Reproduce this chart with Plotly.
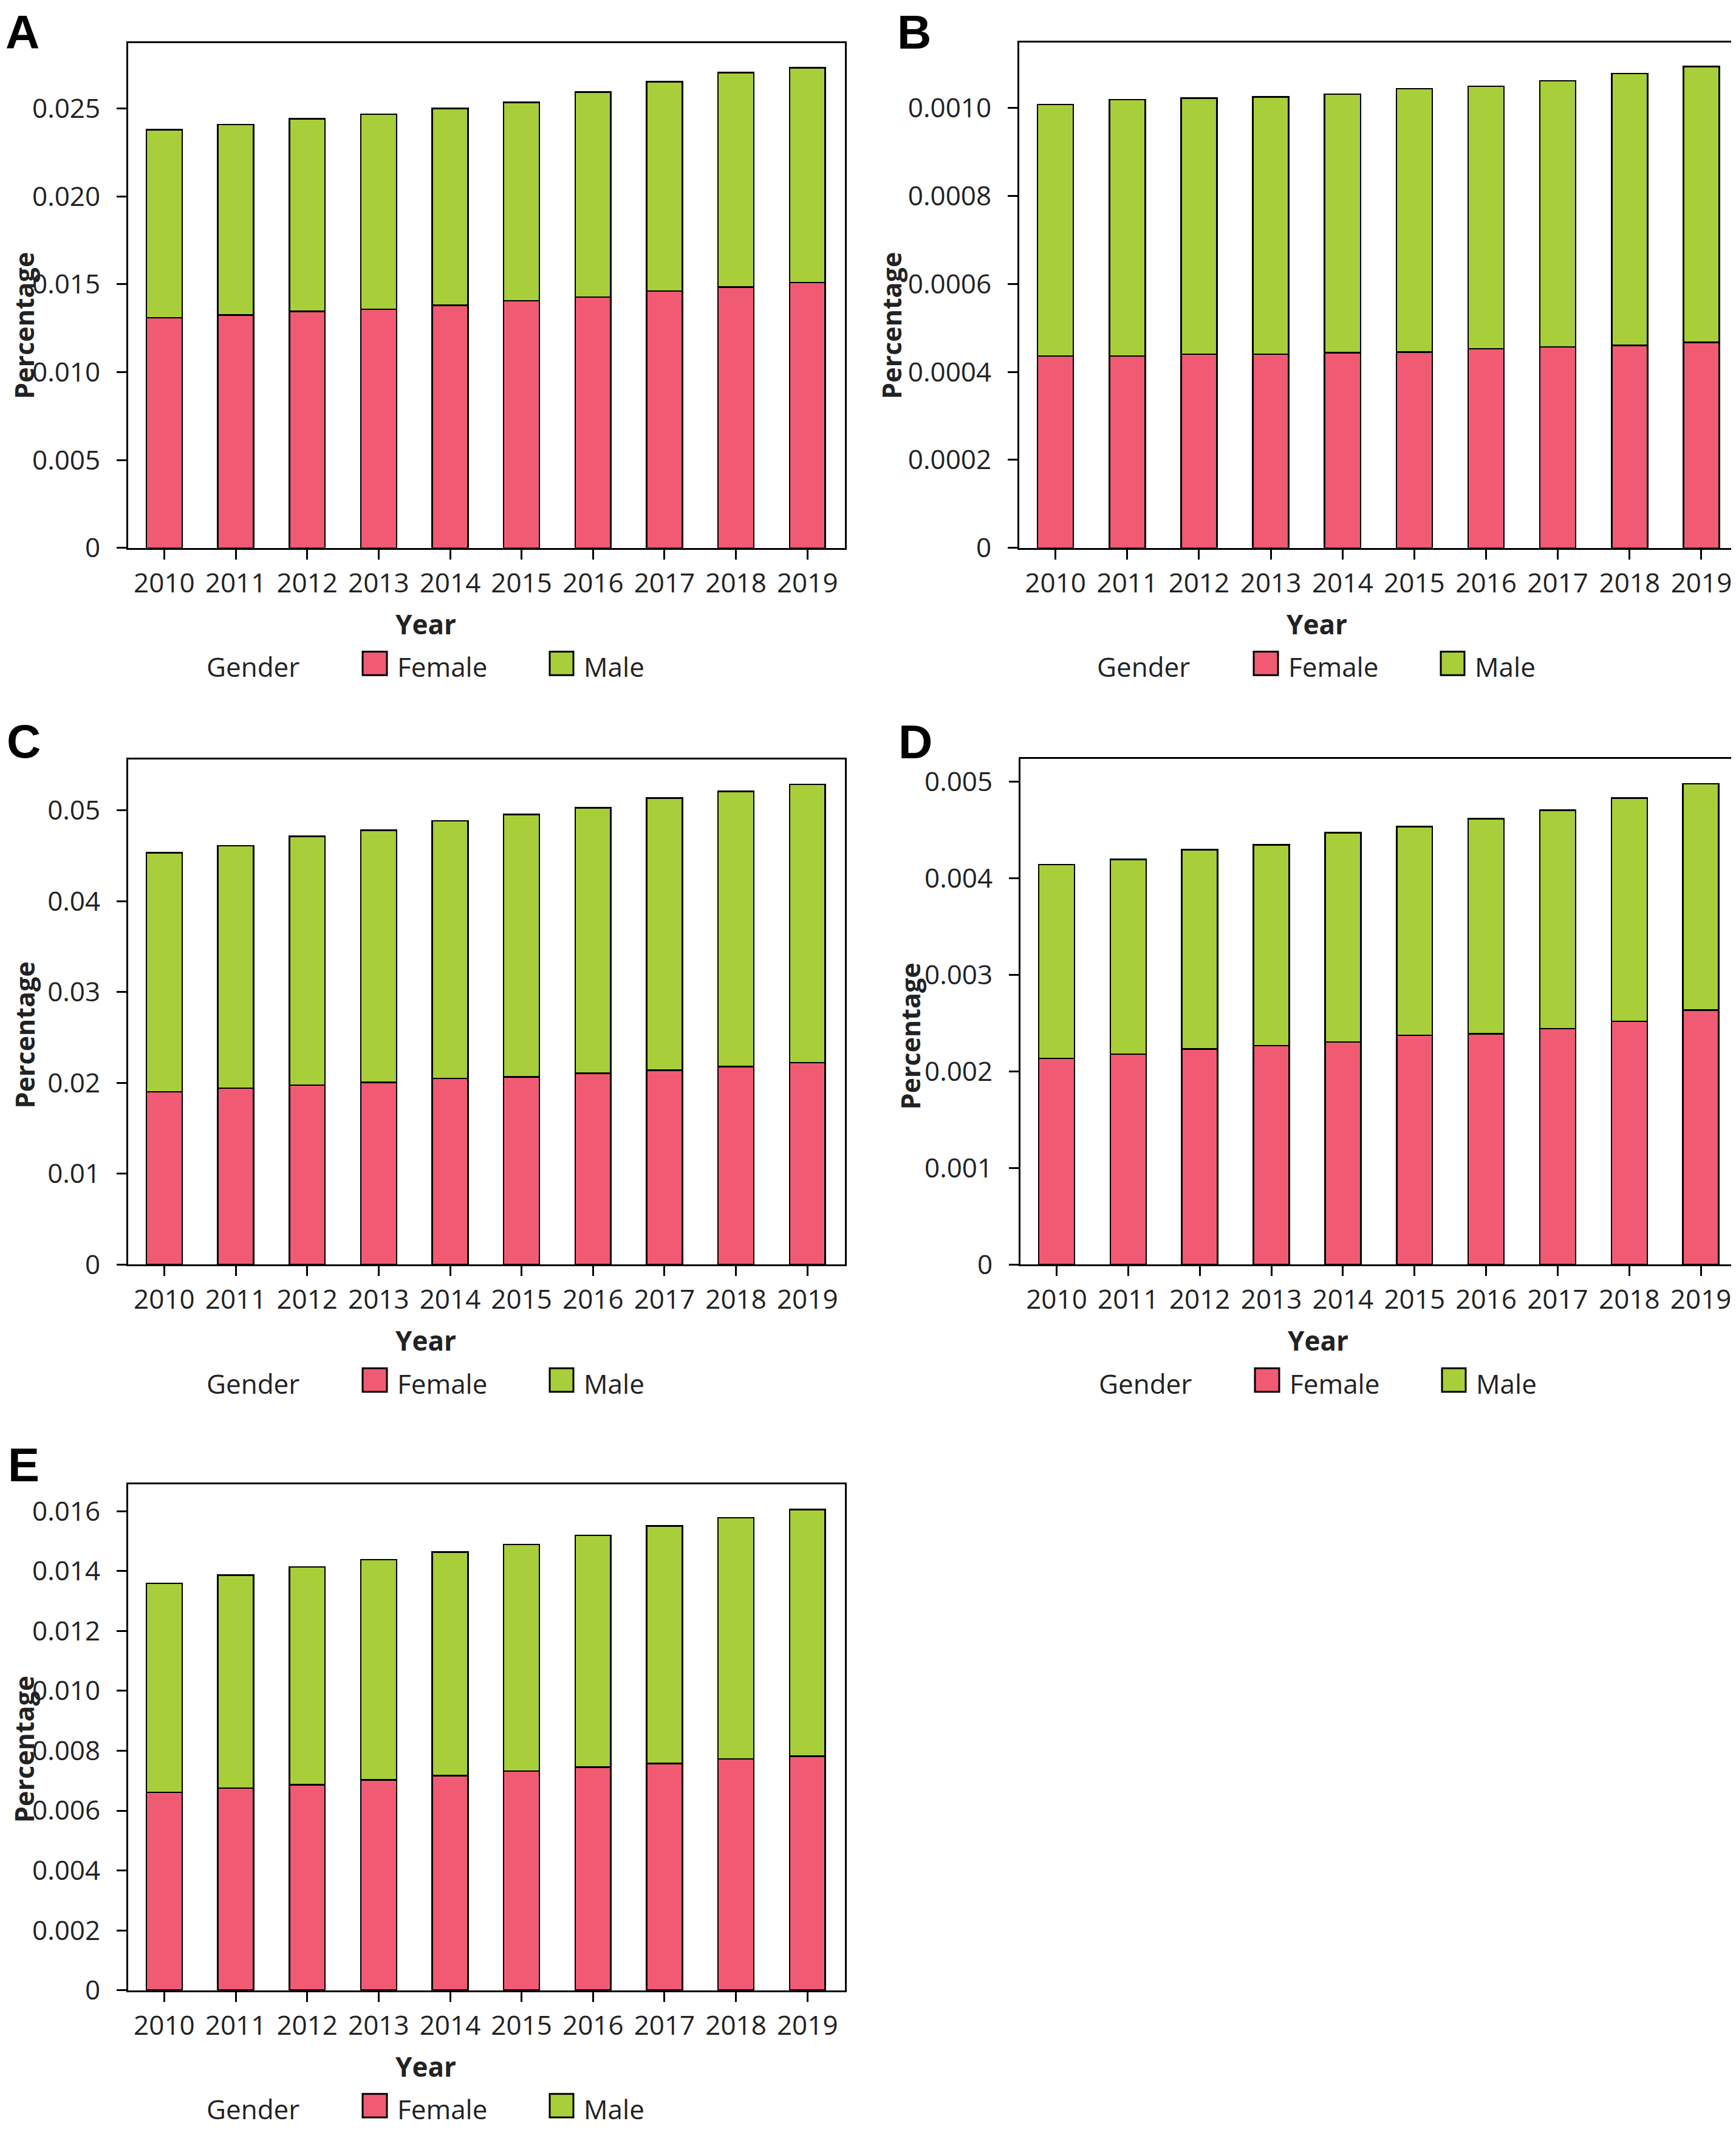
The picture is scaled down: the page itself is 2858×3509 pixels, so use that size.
import plotly.graph_objects as go

years = ["2010", "2011", "2012", "2013", "2014", "2015", "2016", "2017", "2018", "2019"]

# Panel A
a_female = [0.01310, 0.01325, 0.01346, 0.01358, 0.01381, 0.01406, 0.01426, 0.01461, 0.01484, 0.01509]
a_male = [0.01069, 0.01084, 0.01096, 0.01109, 0.01119, 0.01129, 0.01167, 0.01192, 0.01220, 0.01222]
a_ticks = [0, 0.005, 0.010, 0.015, 0.020, 0.025]
a_ticktext = ["0", "0.005", "0.010", "0.015", "0.020", "0.025"]

# Panel B
b_female = [0.000436, 0.000436, 0.000440, 0.000440, 0.000444, 0.000445, 0.000453, 0.000457, 0.000460, 0.000467]
b_male = [0.000572, 0.000583, 0.000582, 0.000585, 0.000587, 0.000599, 0.000596, 0.000605, 0.000618, 0.000627]
b_ticks = [0, 0.0002, 0.0004, 0.0006, 0.0008, 0.0010]
b_ticktext = ["0", "0.0002", "0.0004", "0.0006", "0.0008", "0.0010"]

# Panel C
c_female = [0.01902, 0.01941, 0.01975, 0.02004, 0.02048, 0.02067, 0.02106, 0.02140, 0.02179, 0.02223]
c_male = [0.02631, 0.02670, 0.02738, 0.02777, 0.02835, 0.02889, 0.02923, 0.02996, 0.03030, 0.03064]
c_ticks = [0, 0.01, 0.02, 0.03, 0.04, 0.05]
c_ticktext = ["0", "0.01", "0.02", "0.03", "0.04", "0.05"]

# Panel D
d_female = [0.002134, 0.002179, 0.002230, 0.002266, 0.002303, 0.002372, 0.002390, 0.002441, 0.002518, 0.002633]
d_male = [0.002005, 0.002015, 0.002065, 0.002079, 0.002166, 0.002161, 0.002225, 0.002261, 0.002312, 0.002344]
d_ticks = [0, 0.001, 0.002, 0.003, 0.004, 0.005]
d_ticktext = ["0", "0.001", "0.002", "0.003", "0.004", "0.005"]

# Panel E
e_female = [0.00661, 0.00675, 0.00686, 0.00703, 0.00717, 0.00732, 0.00745, 0.00757, 0.00773, 0.00782]
e_male = [0.00698, 0.00711, 0.00728, 0.00735, 0.00747, 0.00757, 0.00774, 0.00794, 0.00805, 0.00824]
e_ticks = [0, 0.002, 0.004, 0.006, 0.008, 0.010, 0.012, 0.014, 0.016]
e_ticktext = ["0", "0.002", "0.004", "0.006", "0.008", "0.010", "0.012", "0.014", "0.016"]

panel_letters = ["A", "B", "C", "D", "E"]
series_names = ["Female", "Male"]
legend_title = "Gender"
x_title = "Year"
y_title = "Percentage"

W, H = 2858, 3509
FEMALE_COLOR = "#F05B73"
MALE_COLOR = "#A8CE3A"
FONT = "Open Sans"
LETTER_FONT = "Liberation Sans"
TXT = "#222222"

# letter: (x, y, yanchor)
panels = [
    dict(f=a_female, m=a_male, tv=a_ticks, tt=a_ticktext, ymax=0.0287,
         L=203, R=1383, T=64, B=901, letter=(0, 0, "top"), ytitle=(32, 532)),
    dict(f=b_female, m=b_male, tv=b_ticks, tt=b_ticktext, ymax=0.001148,
         L=1670, R=2855, T=63, B=901, letter=(1468, 0, "top"), ytitle=(1460, 532)),
    dict(f=c_female, m=c_male, tv=c_ticks, tt=c_ticktext, ymax=0.0556,
         L=203, R=1383, T=1252, B=2090, letter=(2, 1176, "top"), ytitle=(32, 1709)),
    dict(f=d_female, m=d_male, tv=d_ticks, tt=d_ticktext, ymax=0.005234,
         L=1672, R=2854, T=1251, B=2090, letter=(1470, 1177, "top"), ytitle=(1490, 1711)),
    dict(f=e_female, m=e_male, tv=e_ticks, tt=e_ticktext, ymax=0.01689,
         L=203, R=1383, T=2455, B=3294, letter=(4, 2377, "top"), ytitle=(32, 2894)),
]

def px(x):
    return x / W

def py(y):
    return 1 - y / H

fig = go.Figure()
layout = dict(width=W, height=H, margin=dict(l=0, r=0, t=0, b=0),
              paper_bgcolor="white", plot_bgcolor="white",
              barmode="stack", bargap=0.5, showlegend=False,
              font=dict(family=FONT, size=44, color=TXT))
annotations = []
shapes = []

for i, p in enumerate(panels):
    n = "" if i == 0 else str(i + 1)
    xa, ya = "x" + n, "y" + n
    for name, vals, col in [(series_names[0], p["f"], FEMALE_COLOR), (series_names[1], p["m"], MALE_COLOR)]:
        fig.add_trace(go.Bar(x=years, y=vals, name=name, xaxis=xa, yaxis=ya,
                             marker=dict(color=col, line=dict(color="black", width=2.5)),
                             legendgroup=name, showlegend=False))
    axis_common = dict(showline=True, mirror=True, linecolor="black", linewidth=3,
                       ticks="outside", ticklen=16, tickwidth=3, tickcolor="black",
                       showgrid=False, zeroline=False,
                       tickfont=dict(family=FONT, size=44, color=TXT))
    layout["xaxis" + n] = dict(axis_common, domain=[px(p["L"]), px(p["R"])], anchor=ya,
                               type="category", range=[-0.505, 9.525], ticklabelstandoff=1)
    layout["yaxis" + n] = dict(axis_common, domain=[py(p["B"]), py(p["T"])], anchor=xa,
                               range=[0, p["ymax"]], tickvals=p["tv"], ticktext=p["tt"],
                               ticklabelstandoff=18)
    L, Bt = p["L"], p["B"]
    lx, ly, lanchor = p["letter"]
    annotations.append(dict(text="<b>%s</b>" % panel_letters[i], xref="paper", yref="paper",
                            x=px(lx), y=py(ly), xanchor="left", yanchor=lanchor, borderpad=0,
                            showarrow=False, font=dict(family=LETTER_FONT, size=78, color="black")))
    annotations.append(dict(text="<b>%s</b>" % y_title, xref="paper", yref="paper",
                            x=px(p["ytitle"][0]), y=py(p["ytitle"][1]), xanchor="center", yanchor="middle",
                            textangle=-90, showarrow=False, borderpad=0,
                            font=dict(family=FONT, size=43, color=TXT)))
    annotations.append(dict(text="<b>%s</b>" % x_title, xref="paper", yref="paper",
                            x=px(L + 490), y=py(Bt + 126), xanchor="center", yanchor="middle",
                            showarrow=False, font=dict(family=FONT, size=44, color=TXT)))
    annotations.append(dict(text=legend_title, xref="paper", yref="paper",
                            x=px(L + 205), y=py(Bt + 197), xanchor="center", yanchor="middle",
                            showarrow=False, font=dict(family=FONT, size=44, color=TXT)))
    for (x0, x1, tx), name, col in [((386, 426, 441), series_names[0], FEMALE_COLOR),
                                    ((694, 733, 748), series_names[1], MALE_COLOR)]:
        shapes.append(dict(type="rect", xref="paper", yref="paper",
                           x0=px(L + x0), x1=px(L + x1), y0=py(Bt + 211), y1=py(Bt + 172),
                           fillcolor=col, line=dict(color="black", width=3)))
        annotations.append(dict(text=name, xref="paper", yref="paper",
                                x=px(L + tx), y=py(Bt + 197), xanchor="left", yanchor="middle",
                                showarrow=False, font=dict(family=FONT, size=44, color=TXT)))

layout["annotations"] = annotations
layout["shapes"] = shapes
fig.update_layout(**layout)
fig.write_html("out.html")
